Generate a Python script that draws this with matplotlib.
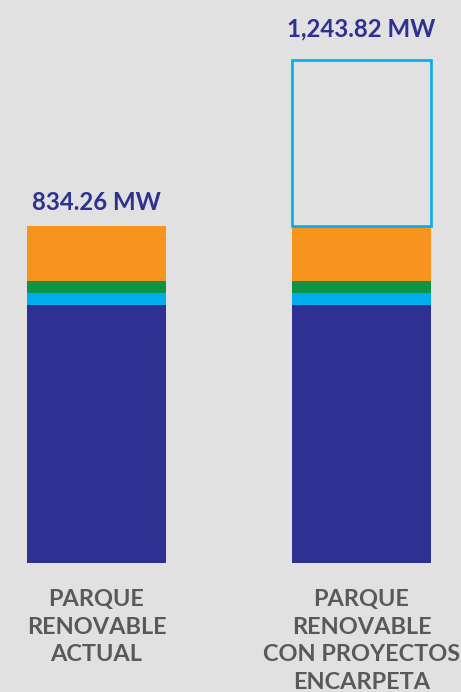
import matplotlib
matplotlib.use("Agg")
import matplotlib.pyplot as plt
import matplotlib.transforms as mtransforms

# ---- data ----
categories = ["PARQUE\nRENOVABLE\nACTUAL", "PARQUE\nRENOVABLE\nCON PROYECTOS\nENCARPETA"]
hidro = [638.9, 638.9]
solar = [30.4, 30.4]
biomasa = [29.7, 29.7]
eolica = [135.26, 135.26]
proyectos = [0.0, 409.56]
totals = [834.26, 1243.82]
total_labels = ["834.26 MW", "1,243.82 MW"]

BG = "#e1e1e1"
C_BLUE = "#2e3192"
C_CYAN = "#00aeef"
C_GREEN = "#0d9447"
C_ORANGE = "#f7941d"
C_TEXT = "#58595b"

W, H = 461, 692
fig = plt.figure(figsize=(W / 100, H / 100), dpi=100, facecolor=BG)
ax = fig.add_axes([0, 0, 1, 1], facecolor=BG)
ax.set_axis_off()

# pixel mapping
spacing_px = 265.0
c0_px = 96.5
bw = 139.0 / spacing_px
ax.set_xlim(-c0_px / spacing_px, 1 + (W - (c0_px + spacing_px)) / spacing_px)
y0_px = 563.3          # pixel (from top) of value 0
scale = 0.4043         # px per MW
ax.set_ylim(-(H - y0_px) / scale, y0_px / scale)

x = list(range(len(categories)))
bottom = [0.0, 0.0]
for vals, col in [(hidro, C_BLUE), (solar, C_CYAN), (biomasa, C_GREEN), (eolica, C_ORANGE)]:
    ax.bar(x, vals, width=bw, bottom=bottom, color=col, linewidth=0, align="center")
    bottom = [b + v for b, v in zip(bottom, vals)]

# outlined projects box (only where there are projects)
px_ = [xi for xi, p in zip(x, proyectos) if p > 0]
pv_ = [p for p in proyectos if p > 0]
pb_ = [b for b, p in zip(bottom, proyectos) if p > 0]
ax.bar(px_, pv_, width=bw, bottom=pb_, facecolor="none",
       edgecolor=C_CYAN, linewidth=1.9, align="center")

# value labels
offsets_pt = [11.5, 17.5]
for xi, tot, lab, off in zip(x, totals, total_labels, offsets_pt):
    ax.annotate(lab, xy=(xi, tot), xytext=(0, off), textcoords="offset points",
                ha="center", va="baseline", fontsize=17.3, fontweight="bold",
                family=["Lato", "DejaVu Sans"], color=C_BLUE)

# category labels, line by line
trans = mtransforms.blended_transform_factory(ax.transData, fig.transFigure)
first_baseline_px = 605.7
line_px = 27.8
for xi, cat in zip(x, categories):
    for i, line in enumerate(cat.split("\n")):
        ypx = first_baseline_px + i * line_px
        ax.text(xi, 1 - ypx / H, line, transform=trans, ha="center", va="baseline",
                fontsize=16.9, fontweight="bold", family=["Lato", "DejaVu Sans"],
                color=C_TEXT)

fig.savefig("out.png", dpi=100, facecolor=BG)
